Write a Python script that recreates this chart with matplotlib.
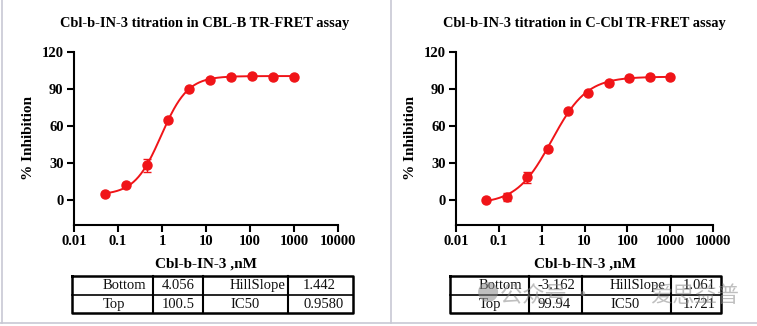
import numpy as np
import matplotlib
matplotlib.use("Agg")
import matplotlib.pyplot as plt
from matplotlib.lines import Line2D

plt.rcParams["font.family"] = ["Liberation Serif", "DejaVu Serif"]

# concentrations (nM), 3-fold dilution
conc = [0.0508, 0.152, 0.457, 1.37, 4.12, 12.3, 37.0, 111.0, 333.0, 1000.0]

# CBL-B assay
cblb_mean = [4.5, 12.0, 28.0, 64.5, 90.0, 97.5, 99.5, 100.5, 100.0, 100.0]
cblb_err = [0.8, 0.8, 5.5, 1.0, 1.0, 0.8, 0.5, 0.5, 0.5, 0.5]
cblb_fit = {"Bottom": 4.056, "Top": 100.5, "HillSlope": 1.442, "IC50": 0.9580}
cblb_cells = [["Bottom", "4.056", "HillSlope", "1.442"],
              ["Top", "100.5", "IC50", "0.9580"]]

# C-Cbl assay
ccbl_mean = [0.3, 2.3, 18.5, 41.0, 72.0, 87.0, 95.0, 99.0, 99.5, 100.0]
ccbl_err = [0.8, 3.0, 4.5, 1.0, 1.0, 0.8, 0.8, 0.5, 0.5, 0.5]
ccbl_fit = {"Bottom": -3.162, "Top": 99.94, "HillSlope": 1.061, "IC50": 1.721}
ccbl_cells = [["Bottom", "-3.162", "HillSlope", "1.061"],
              ["Top", "99.94", "IC50", "1.721"]]

xticks = [0.01, 0.1, 1, 10, 100, 1000, 10000]
xtick_labels = ["0.01", "0.1", "1", "10", "100", "1000", "10000"]
yticks = [0, 30, 60, 90, 120]

RED = "#f01418"
W, H = 757, 326

fig = plt.figure(figsize=(W / 100, H / 100), dpi=100)
fig.patch.set_facecolor("white")


def px_axes(x0, y0, x1, y1):
    # axes from pixel box (top-left origin)
    return fig.add_axes([x0 / W, 1 - y1 / H, (x1 - x0) / W, (y1 - y0) / H])


def curve(x, p):
    return p["Bottom"] + (p["Top"] - p["Bottom"]) / (1 + (p["IC50"] / x) ** p["HillSlope"])


def panel(box, title, mean, err, fit, title_x):
    ax = px_axes(*box)
    xs = np.logspace(np.log10(conc[0]), np.log10(conc[-1]), 300)
    ax.plot(xs, curve(xs, fit), color=RED, lw=1.4)
    ax.errorbar(conc, mean, yerr=err, fmt="o", color=RED, ms=6.5,
                capsize=3, elinewidth=1, capthick=1)
    ax.set_xscale("log")
    ax.set_xlim(0.01, 10000)
    ax.set_ylim(-20, 120)
    ax.set_xticks(xticks)
    ax.set_xticklabels(xtick_labels)
    ax.minorticks_off()
    ax.set_yticks(yticks)
    for s in ["top", "right"]:
        ax.spines[s].set_visible(False)
    for s in ["left", "bottom"]:
        ax.spines[s].set_linewidth(1.5)
    ax.tick_params(width=1.5, length=5, labelsize=10.5, pad=2.5)
    for lab in ax.get_xticklabels() + ax.get_yticklabels():
        lab.set_fontweight("bold")
    ax.set_ylabel("% Inhibition", fontsize=11, fontweight="bold", labelpad=5)
    ax.set_xlabel("Cbl-b-IN-3 ,nM", fontsize=11, fontweight="bold", labelpad=7)
    fig.text(title_x / W, 1 - 23 / H, title, ha="center", va="center",
             fontsize=10.4, fontweight="bold")
    return ax


def table(box, cols, cells, pads):
    x0, y0, x1, y1 = box
    tx = px_axes(x0 - 2, y0 - 2, x1 + 2, y1 + 2)
    tx.set_xlim(x0 - 2, x1 + 2)
    tx.set_ylim(y1 + 2, y0 - 2)
    tx.axis("off")
    ym = (y0 + y1) / 2
    tx.plot([x0, x1, x1, x0, x0], [y0, y0, y1, y1, y0], color="black", lw=1.8)
    tx.plot([x0, x1], [ym, ym], color="black", lw=1.2)
    for c in cols:
        tx.plot([c, c], [y0, y1], color="black", lw=1.5)
    edges = [x0] + cols
    for r, row in enumerate(cells):
        yc = (y0 + ym) / 2 if r == 0 else (ym + y1) / 2
        for j, txt in enumerate(row):
            tx.text(edges[j] + pads[j], yc + 0.5, txt, ha="left", va="center",
                    fontsize=10.5, color="#111111")
    return tx


panel((74, 52, 338, 224.7), "Cbl-b-IN-3 titration in CBL-B TR-FRET assay",
      cblb_mean, cblb_err, cblb_fit, 205)
table((72, 276, 353, 313), [153, 203, 288], cblb_cells, [31, 9, 27, 15])

panel((456, 52, 713, 224.7), "Cbl-b-IN-3 titration in C-Cbl TR-FRET assay",
      ccbl_mean, ccbl_err, ccbl_fit, 584)
table((450, 276, 721, 313), [529, 582, 671], ccbl_cells, [29, 8, 28, 12])

# panel borders
grey = "#c8c8d4"
for xs_, ys_ in [([1.5, 1.5], [0, 323]), ([391, 391], [0, 323]),
                 ([0, 757], [323, 323])]:
    fig.add_artist(Line2D([x / W for x in xs_], [1 - y / H for y in ys_],
                          color=grey, lw=1.2))

# watermark
wm = dict(fontsize=16, color="#8c8c8c", alpha=0.55, va="center", ha="left",
          family=["Noto Sans CJK SC", "DejaVu Sans"])
fig.text(477 / W, 1 - 294 / H, "\u25cf", **wm)
fig.text(500 / W, 1 - 295 / H, "公众号 ·", **wm)
fig.text(650 / W, 1 - 295 / H, "爱思益普", **wm)

fig.savefig("out.png", dpi=100, facecolor="white")
